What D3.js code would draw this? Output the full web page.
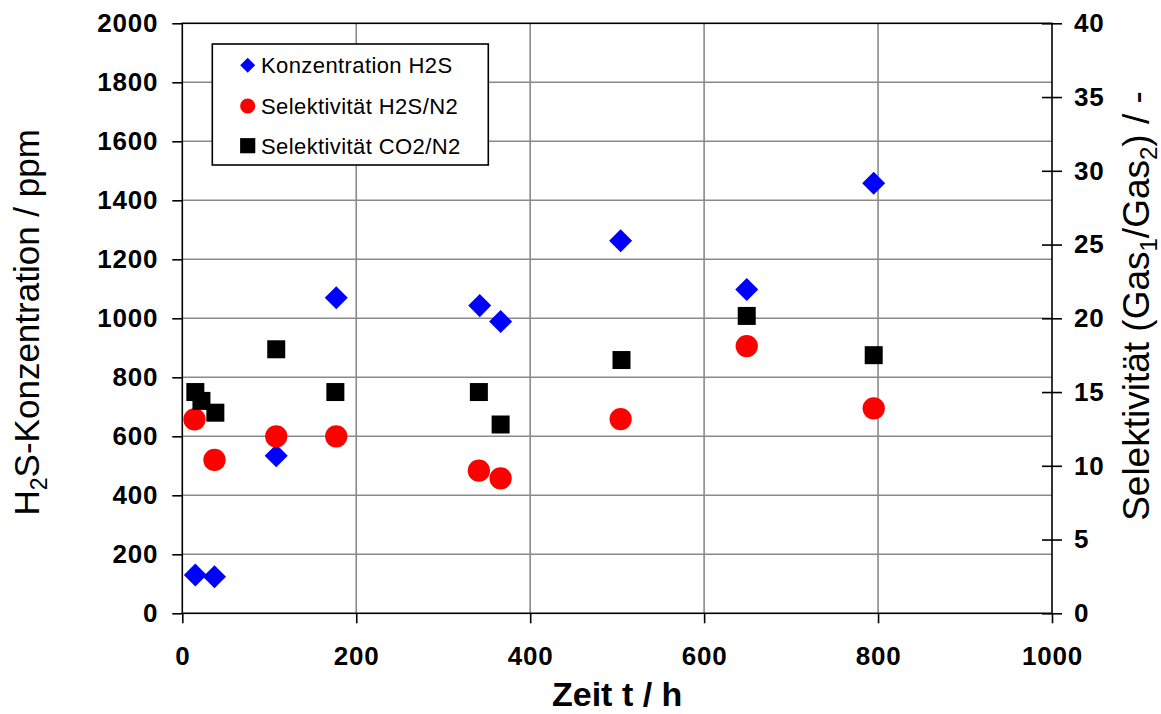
<!DOCTYPE html>
<html>
<head>
<meta charset="utf-8">
<script src="https://cdn.jsdelivr.net/npm/d3@7"></script>
<style>
  html, body { margin: 0; padding: 0; background: #fff; }
  svg { display: block; }
</style>
</head>
<body>
<svg id="chart" width="1161" height="714"></svg>
<script>
// Measured series: H2S concentration (left axis, ppm) and selectivities (right axis)
const h2sTime  = [15, 37, 108, 177, 342, 366, 504, 649, 795];
const h2sPpm   = [130, 124, 534, 1070, 1043, 989, 1263, 1098, 1458];

const selH2sTime = [14, 37, 108, 177, 341, 366, 504, 649, 795];
const selH2s     = [13.15, 10.4, 12.0, 12.0, 9.67, 9.15, 13.17, 18.12, 13.9];

const selCo2Time = [15, 22, 38, 108, 176, 341, 366, 505, 649, 795];
const selCo2     = [15.0, 14.4, 13.6, 17.9, 15.0, 15.0, 12.8, 17.17, 20.16, 17.5];

// Axis ticks
const xTicks  = [0, 200, 400, 600, 800, 1000];
const yTicks  = [0, 200, 400, 600, 800, 1000, 1200, 1400, 1600, 1800, 2000];
const y2Ticks = [0, 5, 10, 15, 20, 25, 30, 35, 40];

const seriesNames = ["Konzentration H2S", "Selektivität H2S/N2", "Selektivität CO2/N2"];

const FONT = "'Liberation Sans', Arial, sans-serif";
const svg = d3.select("#chart");
const fmt = d3.format("d");

const plotLeft = 182.3, plotRight = 1052, plotTop = 23.3, plotBottom = 613.3;
const x  = d3.scaleLinear().domain([0, 1000]).range([plotLeft, plotRight]);
const y  = d3.scaleLinear().domain([0, 2000]).range([plotBottom, plotTop]);
const y2 = d3.scaleLinear().domain([0, 40]).range([plotBottom, plotTop]);

// Gridlines
const grid = svg.append("g").attr("stroke", "#8a8a8a").attr("stroke-width", 1.6);
grid.selectAll("line.h").data(yTicks.slice(1, -1)).join("line")
  .attr("class", "h")
  .attr("x1", plotLeft).attr("x2", plotRight)
  .attr("y1", d => y(d)).attr("y2", d => y(d));
grid.selectAll("line.v").data(xTicks.slice(1, -1)).join("line")
  .attr("class", "v")
  .attr("y1", plotTop).attr("y2", plotBottom)
  .attr("x1", d => x(d)).attr("x2", d => x(d));

// Plot frame
svg.append("rect")
  .attr("x", plotLeft).attr("y", plotTop)
  .attr("width", plotRight - plotLeft).attr("height", plotBottom - plotTop)
  .attr("fill", "none").attr("stroke", "#000").attr("stroke-width", 1.6);

function styleAxis(g) {
  g.select(".domain").remove();
  g.selectAll(".tick line").attr("stroke", "#000").attr("stroke-width", 1.6);
  g.selectAll(".tick text")
    .attr("fill", "#000")
    .style("font-family", FONT)
    .style("font-size", "26px")
    .style("font-weight", "bold")
    .style("letter-spacing", "0.8px");
}

// Left axis
svg.append("g")
  .attr("transform", `translate(${plotLeft},0)`)
  .call(d3.axisLeft(y).tickValues(yTicks).tickFormat(fmt).tickSize(10).tickPadding(14).tickSizeOuter(0))
  .call(styleAxis);

// Bottom axis
svg.append("g")
  .attr("transform", `translate(0,${plotBottom})`)
  .call(d3.axisBottom(x).tickValues(xTicks).tickFormat(fmt).tickSize(10).tickPadding(23).tickSizeOuter(0))
  .call(styleAxis);

// Right axis with ticks crossing the axis line
const rAxis = svg.append("g")
  .attr("transform", `translate(${plotRight},0)`)
  .call(d3.axisRight(y2).tickValues(y2Ticks).tickFormat(fmt).tickSize(10).tickPadding(12).tickSizeOuter(0))
  .call(styleAxis);
rAxis.selectAll(".tick line").attr("x1", -10);

// Markers
const diamond = d3.symbol().type(d3.symbolSquare);
const circle  = d3.symbol().type(d3.symbolCircle);
const square  = d3.symbol().type(d3.symbolSquare);

svg.append("g").selectAll("path").data(h2sTime.map((t, i) => [t, h2sPpm[i]])).join("path")
  .attr("d", diamond.size(265)())
  .attr("transform", d => `translate(${x(d[0])},${y(d[1])}) rotate(45)`)
  .attr("fill", "#0000ff");

svg.append("g").selectAll("path").data(selH2sTime.map((t, i) => [t, selH2s[i]])).join("path")
  .attr("d", circle.size(390)())
  .attr("transform", d => `translate(${x(d[0])},${y2(d[1])})`)
  .attr("fill", "#ff0000");

svg.append("g").selectAll("path").data(selCo2Time.map((t, i) => [t, selCo2[i]])).join("path")
  .attr("d", square.size(324)())
  .attr("transform", d => `translate(${x(d[0])},${y2(d[1])})`)
  .attr("fill", "#000");

// Legend
const lg = svg.append("g");
lg.append("rect")
  .attr("x", 212.3).attr("y", 44).attr("width", 276).attr("height", 121)
  .attr("fill", "#fff").attr("stroke", "#000").attr("stroke-width", 1.6);
const legendItems = [
  { name: seriesNames[0], sym: diamond.size(112)(), rot: 45, color: "#0000ff" },
  { name: seriesNames[1], sym: circle.size(180)(), rot: 0, color: "#ff0000" },
  { name: seriesNames[2], sym: square.size(230)(), rot: 0, color: "#000" }
];
const legendY = [65.3, 106, 145.7];
legendItems.forEach((it, i) => {
  lg.append("path")
    .attr("d", it.sym)
    .attr("transform", `translate(247.7,${legendY[i]}) rotate(${it.rot})`)
    .attr("fill", it.color);
  lg.append("text")
    .attr("x", 261).attr("y", legendY[i] + 7.8)
    .style("font-family", FONT).style("font-size", "22px")
    .style("letter-spacing", "0.4px")
    .attr("fill", "#000")
    .text(it.name);
});

// Axis titles
svg.append("text")
  .attr("x", (plotLeft + plotRight) / 2).attr("y", 706)
  .attr("text-anchor", "middle")
  .style("font-family", FONT).style("font-size", "34px").style("font-weight", "bold")
  .text("Zeit t / h");

const yt = svg.append("text")
  .attr("transform", `translate(38.5,${(plotTop + plotBottom) / 2 + 4}) rotate(-90)`)
  .attr("text-anchor", "middle")
  .style("font-family", FONT).style("font-size", "35px");
yt.append("tspan").text("H");
yt.append("tspan").attr("dy", 8).style("font-size", "23px").text("2");
yt.append("tspan").attr("dy", -8).text("S-Konzentration / ppm");

const y2t = svg.append("text")
  .attr("transform", `translate(1149,306) rotate(-90)`)
  .attr("text-anchor", "middle")
  .style("font-family", FONT).style("font-size", "37px");
y2t.append("tspan").text("Selektivität (Gas");
y2t.append("tspan").attr("dy", 8).style("font-size", "24px").text("1");
y2t.append("tspan").attr("dy", -8).text("/Gas");
y2t.append("tspan").attr("dy", 8).style("font-size", "24px").text("2");
y2t.append("tspan").attr("dy", -8).text(") / -");
</script>
</body>
</html>
